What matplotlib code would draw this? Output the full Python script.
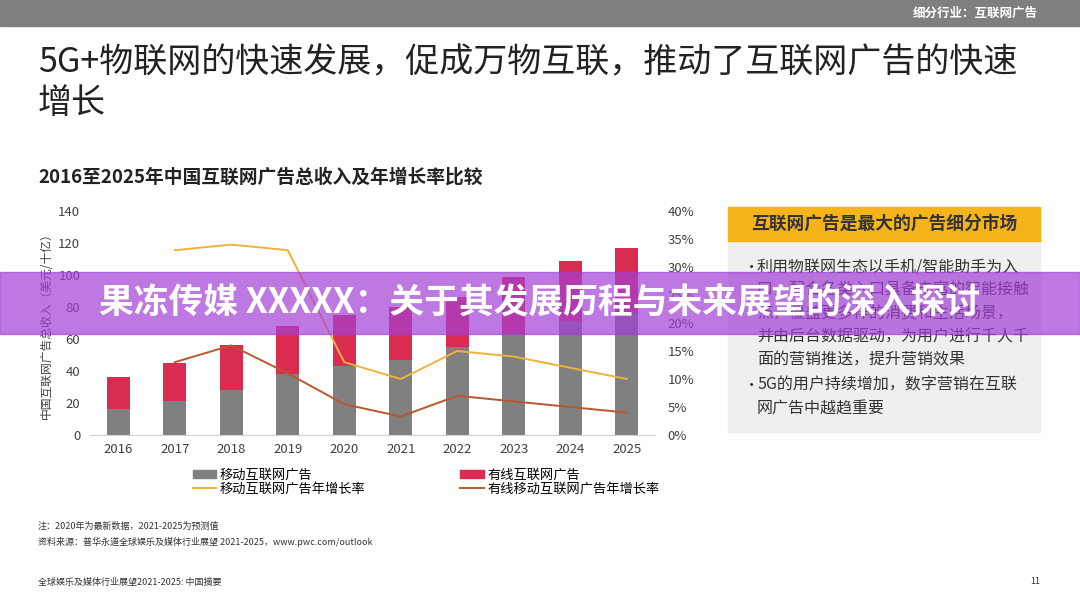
import matplotlib
matplotlib.use("Agg")
import matplotlib.pyplot as plt
from matplotlib.patches import Rectangle, Patch
from matplotlib.lines import Line2D
from matplotlib.ticker import FuncFormatter

plt.rcParams['font.family'] = ['Noto Sans CJK SC', 'DejaVu Sans']

# 数据（从图中读取，单位：十亿美元 / 增长率）
years = ["2016", "2017", "2018", "2019", "2020", "2021", "2022", "2023", "2024", "2025"]
mobile_ad = [16, 21, 28, 38, 43, 47, 55, 63, 71, 76]
total_ad = [36, 45, 56, 68, 75, 80, 86, 99, 109, 117]
wired_ad = [t - m for t, m in zip(total_ad, mobile_ad)]
mobile_growth = [None, 0.33, 0.34, 0.33, 0.13, 0.10, 0.15, 0.14, 0.12, 0.10]
total_growth = [None, 0.13, 0.16, 0.11, 0.055, 0.033, 0.07, 0.06, 0.05, 0.04]

bullet1 = ["利用物联网生态以手机/智能助手为入",
           "口，配合各类入口具备丰富的智能接触",
           "点，覆盖更多样的消费和生活场景，",
           "并由后台数据驱动，为用户进行千人千",
           "面的营销推送，提升营销效果"]
bullet2 = ["5G的用户持续增加，数字营销在互联",
           "网广告中越趋重要"]

W, H = 1080, 608
c_gray = '#808080'
c_red = '#d92c50'
c_yellow = '#f0b23a'
c_brown = '#b9582c'
c_text = '#404040'


def fx(px):
    return px / W


def fy(py):
    return 1 - py / H


fig = plt.figure(figsize=(10.8, 6.08), dpi=100)

# 顶部灰条
fig.patches.append(Rectangle((0, fy(26)), 1, 26 / H, transform=fig.transFigure,
                             color='#7f7f7f', zorder=1))
fig.text(fx(1038), fy(13), "细分行业：互联网广告", color='white', fontsize=9,
         fontweight='bold', ha='right', va='center')

# 标题
fig.text(fx(38), fy(63), "5G+物联网的快速发展，促成万物互联，推动了互联网广告的快速",
         fontsize=24.5, color='#222222', va='center', ha='left')
fig.text(fx(38), fy(103), "增长", fontsize=24.5, color='#222222', va='center', ha='left')

fig.text(fx(38), fy(177), "2016至2025年中国互联网广告总收入及年增长率比较",
         fontsize=13.5, fontweight='bold', color='#222222', va='center')

# 主图
ax = fig.add_axes([fx(90), fy(435), (655 - 90) / W, (435 - 211) / H])
x = list(range(len(years)))
ax.bar(x, mobile_ad, width=0.4, color=c_gray, zorder=2)
ax.bar(x, wired_ad, width=0.4, bottom=mobile_ad, color=c_red, zorder=2)
ax.set_xlim(-0.5, 9.5)
ax.set_ylim(0, 140)
ax.set_yticks(range(0, 141, 20))
ax.set_xticks(x)
ax.set_xticklabels(years)
for s in ['top', 'right', 'left']:
    ax.spines[s].set_visible(False)
ax.spines['bottom'].set_color('#d0d0d0')
ax.tick_params(axis='y', length=0, pad=7, labelsize=9.5, labelcolor=c_text)
ax.tick_params(axis='x', length=0, pad=6, labelsize=9.5, labelcolor=c_text)
ax.set_ylabel("中国互联网广告总收入（美元/十亿）", fontsize=8.5, color=c_text, labelpad=4)

ax2 = ax.twinx()
xs = x[1:]
ax2.plot(xs, mobile_growth[1:], color=c_yellow, lw=1.4)
ax2.plot(xs, total_growth[1:], color=c_brown, lw=1.4)
ax2.set_ylim(0, 0.40)
ax2.set_yticks([i / 100 for i in range(0, 41, 5)])
ax2.yaxis.set_major_formatter(FuncFormatter(lambda v, p: f"{v * 100:.0f}%"))
for s in ['top', 'right', 'left', 'bottom']:
    ax2.spines[s].set_visible(False)
ax2.tick_params(axis='y', length=0, pad=9, labelsize=9.5, labelcolor=c_text)

# 图例
handles = [Patch(color=c_gray), Line2D([], [], color=c_yellow, lw=1.4),
           Patch(color=c_red), Line2D([], [], color=c_brown, lw=1.4)]
labels = ["移动互联网广告", "移动互联网广告年增长率", "有线互联网广告", "有线移动互联网广告年增长率"]
fig.legend(handles, labels, loc='upper left', bbox_to_anchor=(fx(186), fy(462)),
           ncol=2, frameon=False, fontsize=9.5, handlelength=1.8, handleheight=0.6,
           handletextpad=0.25, columnspacing=7.2, labelspacing=0.05, borderpad=0)

# 右侧说明框
fig.patches.append(Rectangle((fx(728), fy(432)), (1040 - 728) / W, (432 - 207) / H,
                             transform=fig.transFigure, color='#efefef', zorder=1))
fig.patches.append(Rectangle((fx(728), fy(241)), (1040 - 728) / W, (241 - 207) / H,
                             transform=fig.transFigure, color='#f5b41c', zorder=1))
fig.text(fx(751), fy(224), "互联网广告是最大的广告细分市场", fontsize=12.8,
         fontweight='bold', color='#333333', va='center')
yy = 267
for i, line in enumerate(bullet1):
    if i == 0:
        fig.text(fx(744), fy(yy), "•", fontsize=11, color='#333333', va='center')
    fig.text(fx(757), fy(yy), line, fontsize=11.5, color='#333333', va='center')
    yy += 23.3
yy += 2
for i, line in enumerate(bullet2):
    if i == 0:
        fig.text(fx(744), fy(yy), "•", fontsize=11, color='#333333', va='center')
    fig.text(fx(757), fy(yy), line, fontsize=11.5, color='#333333', va='center')
    yy += 23.3

# 脚注
fig.text(fx(38), fy(526), "注：2020年为最新数据，2021-2025为预测值", fontsize=6.5, color='#333333', va='center')
fig.text(fx(38), fy(542), "资料来源：普华永道全球娱乐及媒体行业展望 2021-2025，www.pwc.com/outlook",
         fontsize=6.5, color='#333333', va='center')
fig.text(fx(38), fy(582), "全球娱乐及媒体行业展望2021-2025: 中国摘要", fontsize=6.5, color='#333333', va='center')
fig.text(fx(1040), fy(582), "11", fontsize=6.5, color='#333333', va='center', ha='right')

# 紫色横幅
fig.patches.append(Rectangle((0, fy(334)), 1, (334 - 272) / H, transform=fig.transFigure,
                             color='#a33fd5', alpha=0.7, zorder=10))
fig.text(0.5, fy(303), "果冻传媒 XXXXX：关于其发展历程与未来展望的深入探讨", fontsize=25,
         fontweight='bold', color='white', ha='center', va='center', zorder=11)

fig.savefig("out.png", dpi=100)
